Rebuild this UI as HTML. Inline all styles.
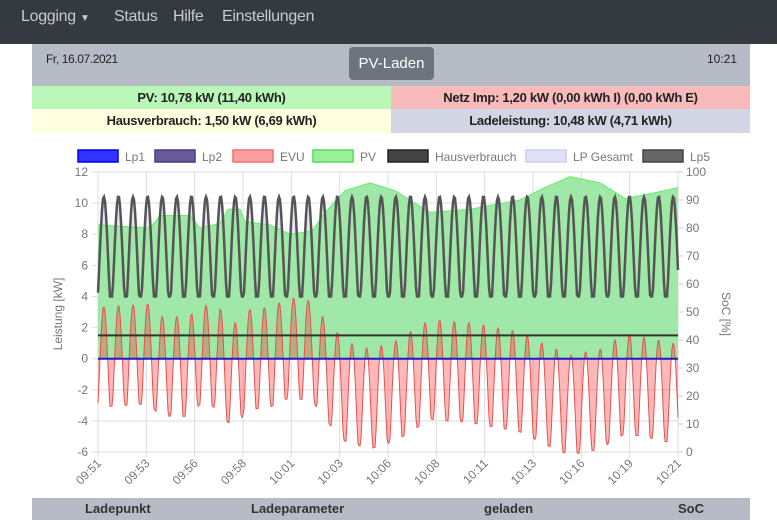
<!DOCTYPE html>
<html><head><meta charset="utf-8"><style>
body{margin:0;width:777px;height:520px;overflow:hidden;background:#fff;font-family:"Liberation Sans",sans-serif;}
.nav{position:absolute;left:0;top:0;width:777px;height:44px;background:#343a40;}
.nav span{position:absolute;top:8px;color:#c9cbcd;font-size:16px;letter-spacing:-0.3px}
.abs{position:absolute;}
</style></head><body>
<div class="nav"><span style="left:21px">Logging <span style="position:static;font-size:10px">▼</span></span><span style="left:114px">Status</span><span style="left:173px">Hilfe</span><span style="left:222px">Einstellungen</span></div>
<div class="abs" style="left:32px;top:44px;width:718px;height:42px;background:#b7bbc6"></div>
<div class="abs" style="left:46px;top:52px;font-size:12px;color:#222;letter-spacing:-0.4px">Fr, 16.07.2021</div>
<div class="abs" style="left:707px;top:52px;font-size:12px;color:#222">10:21</div>
<div class="abs" style="left:349px;top:47px;width:85px;height:33px;background:#6c757d;border-radius:4px;color:#fff;font-size:15px;text-align:center;line-height:33px">PV-Laden</div>
<div class="abs" style="left:32px;top:86px;width:359px;height:23px;background:#b8f7b8;font-size:13px;font-weight:bold;text-align:center;line-height:23px;color:#222;letter-spacing:-0.3px">PV: 10,78 kW (11,40 kWh)</div>
<div class="abs" style="left:391px;top:86px;width:359px;height:23px;background:#f8baba;font-size:13px;font-weight:bold;text-align:center;line-height:23px;color:#222;letter-spacing:-0.3px">Netz Imp: 1,20 kW (0,00 kWh I) (0,00 kWh E)</div>
<div class="abs" style="left:32px;top:109px;width:359px;height:24px;background:#fffee0;font-size:13px;font-weight:bold;text-align:center;line-height:24px;color:#222;letter-spacing:-0.3px">Hausverbrauch: 1,50 kW (6,69 kWh)</div>
<div class="abs" style="left:391px;top:109px;width:359px;height:24px;background:#d2d6e4;font-size:13px;font-weight:bold;text-align:center;line-height:24px;color:#222;letter-spacing:-0.3px">Ladeleistung: 10,48 kW (4,71 kWh)</div>
<div class="abs" style="left:32px;top:498px;width:718px;height:22px;background:#b7bbc6;font-size:13px;font-weight:bold;color:#333;line-height:22px">
<span class="abs" style="left:53px">Ladepunkt</span><span class="abs" style="left:219px">Ladeparameter</span><span class="abs" style="left:452px">geladen</span><span class="abs" style="left:646px">SoC</span></div>
<svg class="abs" style="left:0;top:0" width="777" height="498" id="s" font-family="Liberation Sans, sans-serif" font-size="12" fill="#777"></svg>
<script>
var s=document.getElementById('s'),h='';
var X0=98,X1=678,Y=function(v){return 358.7-v*15.56;};
var leg=[[78,'#3333ff','#0000ff','Lp1'],[155,'#6a5a99','#4a3a80','Lp2'],[233,'#f9a0a0','#f07070','EVU'],[313,'#99f099','#55dd55','PV'],[388,'#444','#222','Hausverbrauch'],[526,'#e2e2f6','#ccccee','LP Gesamt'],[643,'#666','#444','Lp5']];
leg.forEach(function(l){h+='<rect x="'+l[0]+'" y="150" width="40" height="12" fill="'+l[1]+'" stroke="'+l[2]+'" stroke-width="1.5"/><text x="'+(l[0]+47)+'" y="161" font-size="12">'+l[3]+'</text>';});
for(var v=-6;v<=12;v+=2){var y=Y(v);h+='<line x1="'+(X0-6)+'" x2="'+X1+'" y1="'+y+'" y2="'+y+'" stroke="#ddd"/><text x="88" y="'+(y+4)+'" text-anchor="end">'+v+'</text>';}
for(var p=0;p<=100;p+=10){var y=172+(100-p)*2.8;h+='<line x1="'+X1+'" x2="'+(X1+5)+'" y1="'+y+'" y2="'+y+'" stroke="#ccc"/><text x="686" y="'+(y+4)+'">'+p+'</text>';}
var lab=['09:51','09:53','09:56','09:58','10:01','10:03','10:06','10:08','10:11','10:13','10:16','10:19','10:21'];
for(var i=0;i<13;i++){var x=X0+i*(X1-X0)/12;h+='<line x1="'+x+'" x2="'+x+'" y1="172" y2="457" stroke="#ddd"/><text transform="translate('+(x+4)+',464) rotate(-45)" text-anchor="end">'+lab[i]+'</text>';}
h+='<text transform="translate(62,314) rotate(-90)" text-anchor="middle">Leistung [kW]</text><text transform="translate(722,314) rotate(90)" text-anchor="middle">SoC [%]</text>';
var pvk=[[98,8.6],[150,8.4],[160,9.2],[190,9.2],[200,8.4],[220,8.7],[228,9.6],[240,9.6],[245,8.8],[270,8.6],[290,8.0],[312,8.2],[325,9.4],[345,10.8],[370,11.3],[395,10.8],[430,9.4],[470,9.6],[520,10.2],[545,11.0],[570,11.7],[600,11.3],[625,10.3],[650,10.6],[678,11.0]];
function pv(x){for(var i=1;i<pvk.length;i++){if(x<=pvk[i][0]){var a=pvk[i-1],b=pvk[i],t=(x-a[0])/(b[0]-a[0]);return a[1]+t*(b[1]-a[1]);}}return 11;}
function lp(x){var t=(x-X0)/14.6+0.1;var c=0.5-0.5*Math.cos(2*Math.PI*t);c=Math.pow(c,0.8);c=Math.min(1,Math.max(0,(c-0.12)*1.15));return 4+6.4*c;}
var pvP='M'+X0+','+Y(0),lpP='',lpF='M'+X0+','+Y(0),ev='M'+X0+','+Y(0),pvL='';
for(var x=X0;x<=X1;x+=1){var a=pv(x),b=lp(x),e=b+1.5-a;
pvP+='L'+x+','+Y(a).toFixed(1);pvL+=(x==X0?'M':'L')+x+','+Y(a).toFixed(1);lpP+=(x==X0?'M':'L')+x+','+Y(b).toFixed(1);lpF+='L'+x+','+Y(b).toFixed(1);ev+='L'+x+','+Y(e).toFixed(1);}
pvP+='L'+X1+','+Y(0)+'Z';lpF+='L'+X1+','+Y(0)+'Z';var evF=ev+'L'+X1+','+Y(0)+'Z';
h+='<path d="'+lpF+'" fill="#e4e4f6"/>';
h+='<path d="'+pvP+'" fill="#9fe8a8"/><path d="'+pvL+'" fill="none" stroke="#66ee66" stroke-width="1"/>';
h+='<path d="'+evF+'" fill="rgba(255,40,40,0.33)"/><path d="'+ev.replace(/^M[^L]*L/,'M')+'" fill="none" stroke="#e85050" stroke-width="1"/>';
h+='<line x1="'+X0+'" x2="'+X1+'" y1="'+Y(1.5)+'" y2="'+Y(1.5)+'" stroke="#333" stroke-width="2"/>';
h+='<line x1="'+X0+'" x2="'+X1+'" y1="'+Y(0)+'" y2="'+Y(0)+'" stroke="#1a1acc" stroke-width="2"/>';
h+='<path d="'+lpP+'" fill="none" stroke="#555" stroke-width="2.5"/>';
s.innerHTML=h;
</script>
</body></html>
